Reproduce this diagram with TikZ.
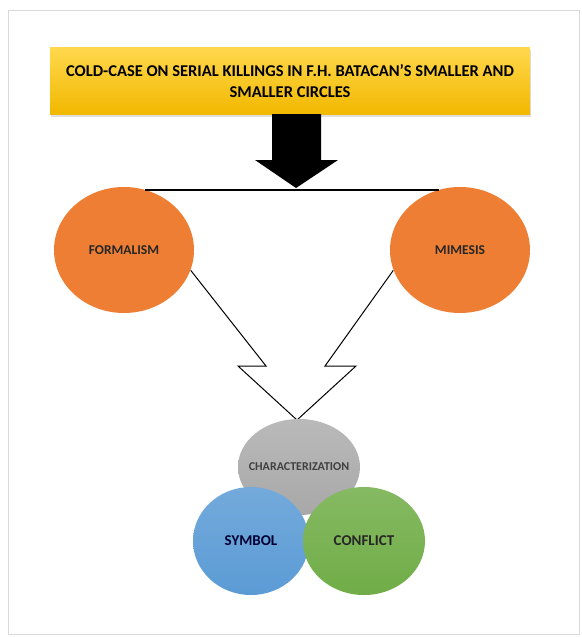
\documentclass[tikz,border=0pt]{standalone}
\usepackage{fontspec}
\setmainfont{Carlito}
\usetikzlibrary{arrows.meta, positioning, calc, shapes.geometric, shadows}

\definecolor{titletop}{HTML}{FFD84D}
\definecolor{titlebot}{HTML}{F2B800}
\definecolor{formorange}{HTML}{EE7E33}
\definecolor{chargray}{HTML}{A8A8A8}
\definecolor{symblue}{HTML}{5B9BD5}
\definecolor{confgreen}{HTML}{70AD47}

\begin{document}
\begin{tikzpicture}[x=1pt,y=-1pt,line width=1pt,font=\bfseries]
		\tikzstyle{every blob}=[ellipse,draw=none,inner sep=0pt,text=black!85]
		\tikzstyle{blob}=[every blob]
		
		\useasboundingbox (0,0) rectangle (581,637);
		\draw[black!15,fill=white,line width=0.6pt] (8,10) rectangle (579,634);
		
		\node[rectangle,minimum width=480pt,minimum height=67pt,top color=titletop,bottom color=titlebot,
		      drop shadow={opacity=0.25,shadow xshift=1pt,shadow yshift=-2pt},align=center,
		      font=\bfseries\fontsize{16.5}{21}\selectfont] (A) at (290,81)
		      {COLD-CASE ON SERIAL KILLINGS IN F.H. BATACAN’S SMALLER AND\\SMALLER CIRCLES};
		
		\node[blob,minimum width=140pt,minimum height=126pt,fill=formorange,font=\bfseries\fontsize{13.5}{15}\selectfont] (B) at (124,250) {FORMALISM};
		\node[blob,minimum width=140pt,minimum height=126pt,fill=formorange,font=\bfseries\fontsize{13.5}{15}\selectfont] (C) at (460,250) {MIMESIS};
		
		\coordinate (T) at (296,188);
		\coordinate (D) at (297,420);
		
		% black arrow under the title
		\fill (T) -- ++(-41,-28) -- ++(17,0) -- ++(0,-46) -- ++(49,0) -- ++(0,46) -- ++(17,0) -- cycle;
		\draw[line width=2pt] ($(B.north)+(21,3)$) -- ($(C.north)+(-21,3)$);
		
		% open zigzag arrow
		\draw (B.-17) -- ($(D)+(-31,-54)$) -- ($(D)+(-59,-54)$) -- (D)
		      -- ($(D)+(59,-54)$) -- ($(D)+(28,-54)$) -- (C.-163);
		
		\node[blob,minimum width=122pt,minimum height=96pt,top color=chargray!80,bottom color=chargray,
		      font=\bfseries\fontsize{12}{14}\selectfont,text=black!75] (E) at (299,467) {\makebox[0pt]{CHARACTERIZATION}};
		\node[blob,minimum width=116pt,minimum height=108pt,top color=symblue!85,bottom color=symblue,
		      font=\bfseries\fontsize{15}{17}\selectfont,text=black!80!blue] (F) at (251,541) {SYMBOL};
		\node[blob,minimum width=122pt,minimum height=108pt,top color=confgreen!85,bottom color=confgreen,
		      font=\bfseries\fontsize{15}{17}\selectfont,text=black!85] (G) at (364,541) {CONFLICT};
	\end{tikzpicture}
\end{document}
